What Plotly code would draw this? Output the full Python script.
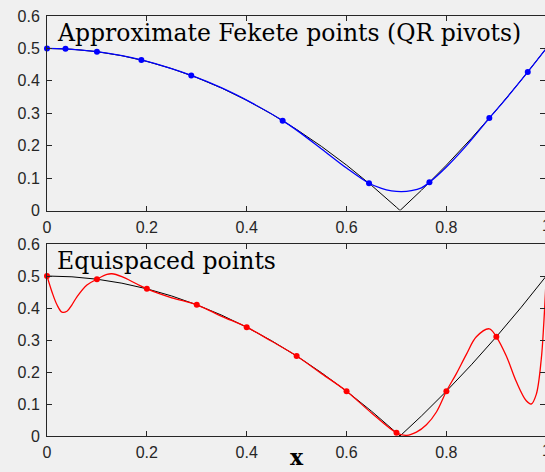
import plotly.graph_objects as go

# f(x) = |x^2 - 1/2| sampled for the reference curve (kink at x ~ 0.7071)
f_x = [0, 0.05, 0.1, 0.15, 0.2, 0.25, 0.3, 0.35, 0.4, 0.45, 0.5, 0.55, 0.6, 0.65, 0.7,
       0.7071, 0.75, 0.8, 0.85, 0.9, 0.95, 1.0]
f_y = [0.5, 0.4975, 0.49, 0.4775, 0.46, 0.4375, 0.41, 0.3775, 0.34, 0.2975, 0.25, 0.1975,
       0.14, 0.0775, 0.01, 0.0, 0.0625, 0.14, 0.2225, 0.31, 0.4025, 0.5]

# approximate Fekete nodes (QR pivots) and the values there
fek_x = [0, 0.037, 0.1, 0.189, 0.289, 0.472, 0.645, 0.766, 0.886, 0.963, 1.0]
fek_y = [0.5, 0.4986, 0.49, 0.4643, 0.4165, 0.2772, 0.084, 0.0868, 0.285, 0.4274, 0.5]

# interpolant through the Fekete nodes
fek_px = [0, 0.037, 0.1, 0.15, 0.189, 0.24, 0.289, 0.35, 0.41, 0.472, 0.5, 0.55, 0.6,
          0.645, 0.67, 0.69, 0.71, 0.73, 0.75, 0.766, 0.8, 0.84, 0.886, 0.92, 0.963, 1.0]
fek_py = [0.5, 0.4986, 0.49, 0.4775, 0.4643, 0.442, 0.4165, 0.378, 0.332, 0.2772, 0.248,
          0.19, 0.131, 0.084, 0.068, 0.0605, 0.058, 0.061, 0.07, 0.0868, 0.134, 0.2,
          0.285, 0.346, 0.4274, 0.5]

# equispaced nodes and values
eq_x = [0, 0.1, 0.2, 0.3, 0.4, 0.5, 0.6, 0.7, 0.8, 0.9, 1.0]
eq_y = [0.5, 0.49, 0.46, 0.41, 0.34, 0.25, 0.14, 0.01, 0.14, 0.31, 0.5]

# interpolant through the equispaced nodes
eq_px = [0, 0.01, 0.02, 0.03, 0.04, 0.05, 0.06, 0.08, 0.1, 0.12, 0.13, 0.15, 0.18, 0.2,
         0.25, 0.3, 0.35, 0.4, 0.45, 0.5, 0.55, 0.6, 0.65, 0.7, 0.72, 0.74, 0.76, 0.78,
         0.8, 0.82, 0.84, 0.86, 0.886, 0.9, 0.92, 0.94, 0.96, 0.97, 0.98, 0.99, 0.995, 1.0]
eq_py = [0.5, 0.45, 0.41, 0.387, 0.39, 0.41, 0.435, 0.472, 0.49, 0.505, 0.507, 0.498,
         0.475, 0.46, 0.432, 0.41, 0.374, 0.34, 0.296, 0.25, 0.195, 0.14, 0.072, 0.01,
         0.002, 0.012, 0.035, 0.075, 0.14, 0.195, 0.255, 0.31, 0.335, 0.31, 0.25, 0.17,
         0.11, 0.1, 0.13, 0.24, 0.35, 0.5]

x_ticks = [0, 0.2, 0.4, 0.6, 0.8]
x_labels = ["0", "0.2", "0.4", "0.6", "0.8"]
y_ticks = [0, 0.1, 0.2, 0.3, 0.4, 0.5, 0.6]
y_labels = ["0", "0.1", "0.2", "0.3", "0.4", "0.5", "0.6"]

BG = "#f0f0f0"
AX = "#262626"
W, H = 545, 472
ML, MT, MB = 47, 16, 36
PH = H - MT - MB


def py(pix):
    """pixel row -> paper fraction"""
    return (H - MB - pix) / PH


def px(pix):
    return (pix - ML) / (W - ML)


fig = go.Figure()

for row, (cx, cy, nx, ny, col) in enumerate([
        (fek_px, fek_py, fek_x, fek_y, "#0000ff"),
        (eq_px, eq_py, eq_x, eq_y, "#ff0000")]):
    xa = "x" if row == 0 else "x2"
    ya = "y" if row == 0 else "y2"
    fig.add_trace(go.Scatter(x=f_x, y=f_y, mode="lines", line=dict(color="black", width=1),
                             xaxis=xa, yaxis=ya, showlegend=False))
    fig.add_trace(go.Scatter(x=cx, y=cy, mode="lines",
                             line=dict(color=col, width=1.3, shape="spline", smoothing=1),
                             xaxis=xa, yaxis=ya, showlegend=False))
    fig.add_trace(go.Scatter(x=nx, y=ny, mode="markers", marker=dict(color=col, size=6),
                             cliponaxis=False, xaxis=xa, yaxis=ya, showlegend=False))

axis_common = dict(
    showgrid=False, zeroline=False, showline=True, mirror="ticks",
    linecolor=AX, linewidth=1, ticks="inside", ticklen=5, tickcolor=AX, tickwidth=1,
    tickfont=dict(family="Liberation Sans", size=16, color=AX),
)
xr = [0, (W - ML) / 499.25]

fig.update_layout(
    width=W, height=H, margin=dict(l=ML, r=0, t=MT, b=MB),
    paper_bgcolor=BG, plot_bgcolor=BG, showlegend=False,
    xaxis=dict(domain=[0, 1], range=xr, tickvals=x_ticks, ticktext=x_labels, anchor="y",
               ticklabelstandoff=2, **axis_common),
    yaxis=dict(domain=[py(210.5), 1], range=[0, 0.6], tickvals=y_ticks, ticktext=y_labels,
               anchor="x", ticklabelstandoff=3, **axis_common),
    xaxis2=dict(domain=[0, 1], range=xr, tickvals=x_ticks, ticktext=x_labels, anchor="y2",
                ticklabelstandoff=2, **axis_common),
    yaxis2=dict(domain=[0, py(244)], range=[0, 0.6], tickvals=y_ticks, ticktext=y_labels,
                anchor="x2", ticklabelstandoff=3, **axis_common),
)

serif = dict(family="DejaVu Serif", size=23.5, color="black")
fig.add_annotation(text="Approximate Fekete points (QR pivots)", xref="paper", yref="paper",
                   x=px(55), y=py(17), xanchor="left", yanchor="top", showarrow=False,
                   font=serif)
fig.add_annotation(text="Equispaced points", xref="paper", yref="paper",
                   x=px(55), y=py(245), xanchor="left", yanchor="top", showarrow=False,
                   font=serif)
fig.add_annotation(text="<b>x</b>", xref="paper", yref="paper",
                   x=px(296.5), y=py(472), xanchor="center", yanchor="bottom",
                   showarrow=False, font=dict(family="DejaVu Serif", size=22, color="black"))
for ypix in (225.6, 450.4):
    fig.add_annotation(text="1", xref="paper", yref="paper", x=px(546.5), y=py(ypix),
                       xanchor="center", yanchor="middle", showarrow=False,
                       font=dict(family="Liberation Sans", size=16, color=AX))

fig.write_html("out.html")
